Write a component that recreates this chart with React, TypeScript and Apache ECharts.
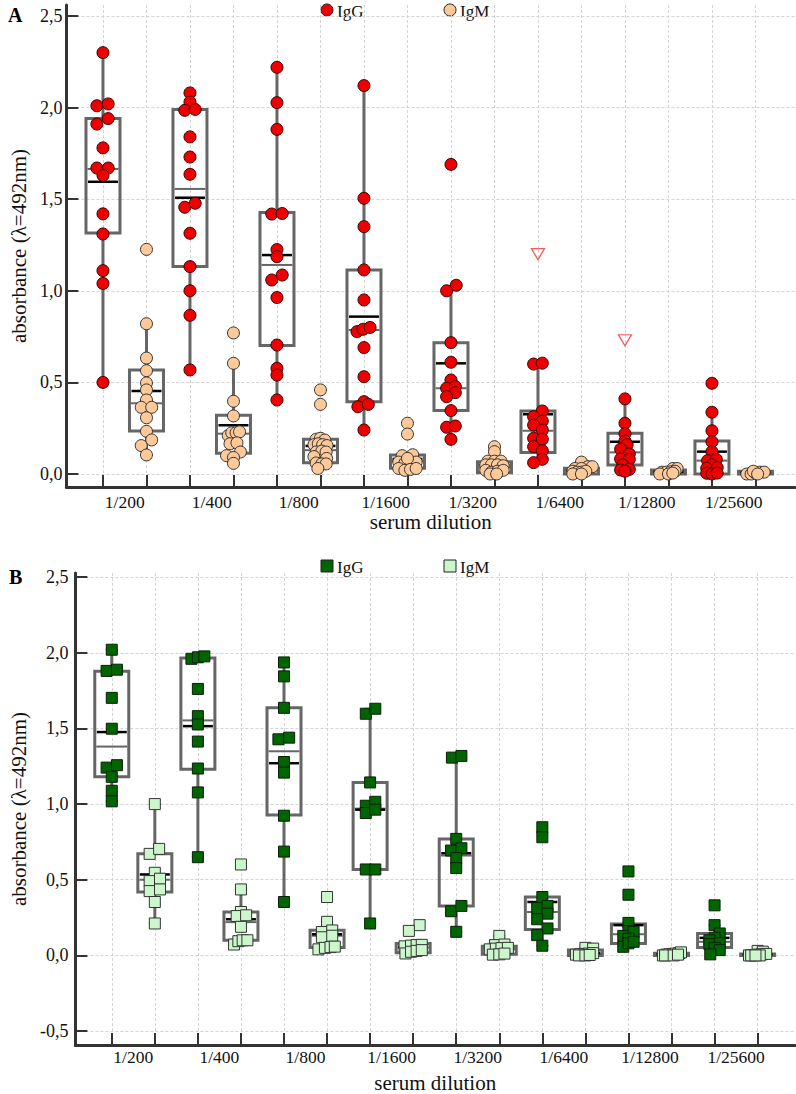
import React, { useEffect, useRef } from "react";
import * as echarts from "echarts";

const dilutions = ["1/200", "1/400", "1/800", "1/1600", "1/3200", "1/6400", "1/12800", "1/25600"];
const yTicksA = [0, 0.5, 1, 1.5, 2, 2.5];
const yTicksB = [-0.5, 0, 0.5, 1, 1.5, 2, 2.5];
const positions = [0, 1, 2, 3, 4, 5, 6, 7, 8, 9, 10, 11, 12, 13, 14, 15];
const labelPositions = [0.5, 2.5, 4.5, 6.5, 8.5, 10.5, 12.5, 14.5];

// box stats: [low whisker, Q1, median (grey), Q3, high whisker, mean (black)]
const boxA_IgG = [
  [0.5, 1.315, 1.665, 1.94, 2.3, 1.595],
  [0.568, 1.132, 1.556, 1.99, 2.078, 1.508],
  [0.404, 0.702, 1.141, 1.428, 2.214, 1.195],
  [0.24, 0.395, 0.786, 1.114, 2.118, 0.859],
  [0.189, 0.346, 0.468, 0.717, 1.026, 0.604],
  [0.062, 0.118, 0.236, 0.344, 0.6, 0.326],
  [0.015, 0.049, 0.118, 0.222, 0.413, 0.176],
  [0.0, 0.0, 0.073, 0.18, 0.337, 0.122],
];
const boxA_IgM = [
  [0.104, 0.235, 0.386, 0.567, 0.82, 0.453],
  [0.058, 0.113, 0.22, 0.32, 0.604, 0.266],
  [0.03, 0.062, 0.13, 0.189, 0.195, 0.153],
  [0.02, 0.031, 0.07, 0.104, 0.104, 0.082],
  [0.0, 0.007, 0.035, 0.067, 0.15, 0.049],
  [0.0, 0.0, 0.02, 0.031, 0.065, 0.02],
  [0.0, 0.0, 0.01, 0.022, 0.03, 0.012],
  [0.0, 0.0, 0.005, 0.015, 0.02, 0.008],
];
// points: [horizontal jitter, absorbance]
const ptsA_IgG = [
  [[0, 2.3], [-0.14, 2.01], [0.12, 2.02], [0.12, 1.94], [-0.14, 1.91], [0, 1.78], [-0.14, 1.67], [0.12, 1.67], [0, 1.63], [0, 1.42], [0, 1.31], [0, 1.11], [0, 1.04], [0, 0.5]],
  [[0, 2.08], [0, 2.03], [-0.12, 1.985], [0.12, 1.99], [0, 1.84], [0, 1.73], [0, 1.636], [-0.12, 1.456], [0.12, 1.478], [0, 1.314], [0, 1.132], [0, 1.0], [0, 0.866], [0, 0.568]],
  [[0, 2.22], [0, 2.027], [0, 1.881], [-0.12, 1.419], [0.12, 1.422], [0, 1.225], [0, 1.186], [-0.12, 1.059], [0.12, 1.086], [0, 0.963], [0, 0.704], [0, 0.577], [0, 0.54], [0, 0.404]],
  [[0, 2.12], [0, 1.505], [0, 1.35], [0, 1.114], [0, 0.95], [-0.16, 0.777], [-0.02, 0.79], [0.14, 0.8], [0, 0.69], [0, 0.531], [0, 0.395], [-0.14, 0.367], [0.1, 0.38], [0, 0.24]],
  [[0, 1.69], [0.12, 1.03], [-0.1, 1.0], [0, 0.717], [0, 0.61], [0, 0.513], [-0.1, 0.468], [0.1, 0.477], [0.1, 0.444], [-0.1, 0.422], [0, 0.346], [-0.1, 0.255], [0.1, 0.262], [0, 0.189]],
  [[-0.1, 0.6], [0.1, 0.605], [0.1, 0.344], [-0.1, 0.313], [0.1, 0.289], [-0.1, 0.267], [0.1, 0.24], [-0.1, 0.195], [0.1, 0.19], [-0.1, 0.149], [0.1, 0.127], [0.1, 0.08], [-0.1, 0.062]],
  [[0, 0.41], [0, 0.277], [0, 0.22], [0, 0.18], [0.05, 0.16], [-0.1, 0.135], [0.1, 0.11], [-0.1, 0.082], [0.1, 0.08], [-0.05, 0.05], [-0.1, 0.022], [0.1, 0.025], [0, 0.015]],
  [[0, 0.495], [0, 0.337], [0, 0.236], [0, 0.176], [0, 0.122], [-0.1, 0.073], [0.1, 0.08], [0, 0.05], [-0.12, 0.031], [0.12, 0.035], [-0.12, 0.004], [0, 0.0], [0.12, 0.005]],
];
const ptsA_IgM = [
  [[0, 1.226], [0, 0.82], [0, 0.633], [0, 0.564], [0, 0.497], [0, 0.459], [0, 0.404], [-0.12, 0.364], [0.12, 0.364], [0, 0.307], [0, 0.233], [0.12, 0.186], [-0.12, 0.155], [0, 0.104]],
  [[0, 0.77], [0, 0.604], [0, 0.397], [0, 0.317], [-0.12, 0.21], [-0.04, 0.225], [0.06, 0.225], [0.14, 0.23], [-0.08, 0.165], [0.08, 0.17], [0.16, 0.12], [-0.16, 0.1], [0, 0.09], [0, 0.058]],
  [[0, 0.459], [0, 0.38], [-0.1, 0.19], [0, 0.195], [0.1, 0.185], [-0.15, 0.16], [-0.05, 0.165], [0.05, 0.16], [0.15, 0.155], [-0.1, 0.12], [0.03, 0.125], [0.13, 0.12], [-0.15, 0.095], [0.14, 0.085], [-0.1, 0.06], [0.03, 0.055], [0.13, 0.055], [-0.06, 0.03]],
  [[0, 0.277], [0, 0.218], [-0.12, 0.1], [0.12, 0.105], [-0.2, 0.065], [-0.06, 0.06], [0.07, 0.06], [0.2, 0.065], [0, 0.085], [-0.2, 0.03], [-0.06, 0.02], [0.07, 0.025], [0.2, 0.03]],
  [[0, 0.149], [0, 0.122], [-0.15, 0.07], [0, 0.07], [0.15, 0.07], [-0.2, 0.05], [-0.07, 0.05], [0.07, 0.05], [0.2, 0.045], [-0.2, 0.02], [-0.07, 0.01], [0.07, 0.015], [0.2, 0.02], [-0.1, 0.0], [0.05, 0.0]],
  [[0, 0.065], [0.15, 0.04], [0.25, 0.04], [-0.15, 0.03], [0, 0.03], [-0.2, 0.015], [-0.1, 0.01], [0, 0.01], [0.1, 0.015], [-0.2, 0.0], [0, 0.0]],
  [[0.1, 0.03], [0.2, 0.03], [-0.15, 0.01], [-0.05, 0.01], [0.05, 0.012], [0.15, 0.015], [-0.2, 0.0], [0, 0.0], [0.1, 0.005]],
  [[-0.2, 0.0], [-0.1, 0.0], [0, 0.005], [0.1, 0.01], [0.2, 0.01], [-0.05, 0.015], [0.05, 0.0]],
];
// far outliers (open triangles): [position index, absorbance]
const farA_IgG = [[10, 1.2], [12, 0.73]];

const boxB_IgG = [
  [1.018, 1.18, 1.38, 1.877, 2.02, 1.476],
  [0.649, 1.23, 1.553, 1.965, 1.976, 1.515],
  [0.353, 0.928, 1.349, 1.636, 1.936, 1.27],
  [0.211, 0.568, 0.97, 1.143, 1.63, 0.963],
  [0.156, 0.327, 0.66, 0.77, 1.318, 0.675],
  [0.064, 0.171, 0.287, 0.386, 0.386, 0.353],
  [0.057, 0.079, 0.14, 0.208, 0.215, 0.2],
  [0.007, 0.053, 0.09, 0.145, 0.2, 0.116],
];
const boxB_IgM = [
  [0.211, 0.419, 0.5, 0.671, 1.0, 0.535],
  [0.072, 0.101, 0.22, 0.287, 0.436, 0.239],
  [0.04, 0.053, 0.13, 0.167, 0.222, 0.14],
  [0.013, 0.018, 0.05, 0.079, 0.079, 0.057],
  [0.005, 0.007, 0.04, 0.061, 0.129, 0.045],
  [0.0, 0.0, 0.01, 0.035, 0.05, 0.015],
  [0.0, 0.0, 0.007, 0.015, 0.02, 0.008],
  [0.0, 0.0, 0.005, 0.01, 0.03, 0.008],
];
const ptsB_IgG = [
  [[0, 2.02], [-0.12, 1.88], [0.12, 1.888], [0, 1.702], [0, 1.498], [-0.12, 1.241], [0.12, 1.257], [0, 1.18], [0, 1.088], [0, 1.018]],
  [[-0.15, 1.96], [0, 1.97], [0.15, 1.976], [0, 1.761], [0, 1.581], [0, 1.526], [0, 1.413], [0, 1.235], [0, 1.077], [0, 0.649]],
  [[0, 1.936], [0, 1.844], [0, 1.636], [-0.13, 1.428], [0.12, 1.439], [0, 1.278], [0, 1.208], [0, 0.923], [0, 0.686], [0, 0.353]],
  [[-0.1, 1.597], [0.12, 1.63], [0, 1.143], [-0.1, 0.989], [0.12, 1.015], [-0.1, 0.941], [0.12, 0.963], [-0.1, 0.568], [0.12, 0.568], [0, 0.211]],
  [[-0.1, 1.307], [0.12, 1.318], [0, 0.77], [-0.12, 0.693], [0.12, 0.708], [0, 0.643], [0, 0.577], [-0.12, 0.292], [0.12, 0.327], [0, 0.156]],
  [[0, 0.847], [0, 0.781], [0, 0.386], [-0.12, 0.313], [0.12, 0.327], [0.12, 0.276], [-0.12, 0.239], [0.12, 0.178], [-0.12, 0.134], [0, 0.064]],
  [[0, 0.555], [0, 0.401], [0, 0.215], [0, 0.16], [-0.12, 0.129], [0.12, 0.155], [0, 0.11], [-0.12, 0.057], [0, 0.08], [0.12, 0.09]],
  [[0, 0.331], [0, 0.2], [0.12, 0.145], [0, 0.116], [-0.12, 0.1], [-0.12, 0.075], [0.12, 0.08], [0, 0.05], [0.12, 0.035], [-0.1, 0.007]],
];
const ptsB_IgM = [
  [[0, 1.0], [-0.12, 0.671], [0.1, 0.704], [0, 0.546], [-0.12, 0.491], [0.12, 0.507], [-0.12, 0.425], [0.12, 0.436], [0, 0.353], [0, 0.211]],
  [[0, 0.601], [0, 0.436], [0, 0.287], [-0.1, 0.26], [0.12, 0.265], [0, 0.189], [-0.16, 0.072], [-0.06, 0.094], [0.04, 0.1], [0.15, 0.1]],
  [[0, 0.386], [0, 0.222], [-0.12, 0.155], [0.12, 0.165], [-0.12, 0.12], [0.12, 0.13], [-0.2, 0.04], [-0.05, 0.05], [0.08, 0.055], [0.18, 0.058]],
  [[0.15, 0.2], [-0.1, 0.162], [-0.2, 0.06], [-0.05, 0.065], [0.08, 0.068], [0.2, 0.07], [-0.18, 0.013], [-0.05, 0.024], [0.08, 0.03], [0.2, 0.035]],
  [[0, 0.129], [-0.1, 0.068], [0.12, 0.072], [-0.22, 0.04], [-0.08, 0.045], [0.05, 0.048], [0.2, 0.05], [-0.15, 0.005], [0, 0.007], [0.12, 0.012]],
  [[0, 0.05], [0.18, 0.045], [-0.22, 0.005], [-0.12, 0.008], [-0.02, 0.01], [0.08, 0.012], [0.18, 0.015], [-0.15, 0.0], [0, 0.0], [0.1, 0.003]],
  [[-0.2, 0.0], [-0.12, 0.005], [-0.05, 0.008], [0.03, 0.01], [0.1, 0.012], [0.18, 0.015], [0.22, 0.02], [-0.15, 0.0], [0.05, 0.0], [0.15, 0.005]],
  [[0, 0.03], [0.12, 0.025], [-0.2, 0.0], [-0.1, 0.002], [0, 0.005], [0.1, 0.008], [0.2, 0.01], [-0.15, 0.0], [0.05, 0.0], [-0.05, 0.0]],
];

const FONT = "'Liberation Serif', 'Times New Roman', 'DejaVu Serif', serif";
const GREY = "#666666";
const AXIS = "#333333";

function boxData(stats: number[][], offset: number) {
  return stats.map((s, k) => [2 * k + offset, ...s]);
}
function pointData(groups: number[][][], offset: number) {
  const out: number[][] = [];
  groups.forEach((g, k) => g.forEach(([dx, v]) => out.push([2 * k + offset + dx, v])));
  return out;
}

function renderBox(boxW: number) {
  return (params: any, api: any) => {
    const x = api.value(0);
    const low = api.value(1), q1 = api.value(2), med = api.value(3), q3 = api.value(4), high = api.value(5), mean = api.value(6);
    const pLow = api.coord([x, low]);
    const pQ1 = api.coord([x, q1]);
    const pMed = api.coord([x, med]);
    const pQ3 = api.coord([x, q3]);
    const pHigh = api.coord([x, high]);
    const pMean = api.coord([x, mean]);
    const cx = pLow[0];
    const hw = boxW / 2;
    const cap = 6;
    const ch: any[] = [];
    ch.push({ type: "line", shape: { x1: cx, y1: pQ3[1], x2: cx, y2: pHigh[1] }, style: { stroke: GREY, lineWidth: 3 } });
    ch.push({ type: "line", shape: { x1: cx, y1: pQ1[1], x2: cx, y2: pLow[1] }, style: { stroke: GREY, lineWidth: 3 } });
    ch.push({ type: "line", shape: { x1: cx - cap, y1: pHigh[1], x2: cx + cap, y2: pHigh[1] }, style: { stroke: GREY, lineWidth: 2 } });
    ch.push({ type: "line", shape: { x1: cx - cap, y1: pLow[1], x2: cx + cap, y2: pLow[1] }, style: { stroke: GREY, lineWidth: 2 } });
    ch.push({
      type: "rect",
      shape: { x: cx - hw, y: pQ3[1], width: boxW, height: Math.max(pQ1[1] - pQ3[1], 0.5) },
      style: { fill: "rgba(255,255,255,0)", stroke: GREY, lineWidth: 3 },
    });
    ch.push({ type: "line", shape: { x1: cx - hw + 1.5, y1: pMed[1], x2: cx + hw - 1.5, y2: pMed[1] }, style: { stroke: GREY, lineWidth: 2 } });
    ch.push({ type: "line", shape: { x1: cx - hw + 2, y1: pMean[1], x2: cx + hw - 2, y2: pMean[1] }, style: { stroke: "#000", lineWidth: 2.5 } });
    return { type: "group", children: ch };
  };
}

function xAxisFor(gridIndex: number, min: number, max: number, labelMargin: number, nameGap: number) {
  return {
    type: "value",
    gridIndex,
    min,
    max,
    name: "serum dilution",
    nameLocation: "middle",
    nameGap,
    nameTextStyle: { fontFamily: FONT, fontSize: 21, color: "#111" },
    axisLine: { show: true, onZero: false, lineStyle: { color: AXIS, width: 3 } },
    axisTick: { show: true, inside: true, length: 12, customValues: positions, lineStyle: { color: AXIS, width: 2 } },
    axisLabel: {
      show: true,
      customValues: labelPositions,
      margin: labelMargin,
      fontFamily: FONT,
      fontSize: 17.5,
      color: "#111",
      formatter: (v: number) => dilutions[Math.round((v - 0.5) / 2)] || "",
    },
    splitLine: { show: true, lineStyle: { color: "#d4d4d4", type: [3, 2], width: 1 } },
  };
}

function yAxisFor(gridIndex: number, min: number, max: number, ticks: number[], labelMargin: number, nameGap: number) {
  return {
    type: "value",
    gridIndex,
    min,
    max,
    name: "absorbance (λ=492nm)",
    nameLocation: "middle",
    nameGap,
    nameTextStyle: { fontFamily: FONT, fontSize: 21, color: "#111" },
    axisLine: { show: true, onZero: false, lineStyle: { color: AXIS, width: 3 } },
    axisTick: { show: true, inside: true, length: 12, customValues: ticks, lineStyle: { color: AXIS, width: 2 } },
    axisLabel: {
      show: true,
      customValues: ticks,
      margin: labelMargin,
      fontFamily: FONT,
      fontSize: 18,
      color: "#111",
      formatter: (v: number) => v.toFixed(1).replace(".", ","),
    },
    splitLine: { show: true, lineStyle: { color: "#d4d4d4", type: [3, 2], width: 1 } },
  };
}

function legendItems(y: number, shape: "circle" | "rect", colors: string[]) {
  const items: any[] = [];
  const xs = [327, 450];
  const names = ["IgG", "IgM"];
  xs.forEach((x, i) => {
    if (shape === "circle") {
      items.push({ type: "circle", shape: { cx: x, cy: y, r: 6 }, style: { fill: colors[i], stroke: "#222", lineWidth: 1 } });
    } else {
      items.push({ type: "rect", shape: { x: x - 6, y: y - 6, width: 12, height: 12 }, style: { fill: colors[i], stroke: "#222", lineWidth: 1 } });
    }
    items.push({
      type: "text",
      x: x + 10,
      y: y + 1,
      style: { text: names[i], fontFamily: FONT, fontSize: 17, fill: "#111", verticalAlign: "middle" },
    });
  });
  return items;
}

export default function App() {
  const ref = useRef<HTMLDivElement>(null);
  useEffect(() => {
    document.body.style.margin = "0";
    document.body.style.overflow = "hidden";
    if (!ref.current) return;
    const chart = echarts.init(ref.current, undefined, { renderer: "svg" });
    const RED = "#ee0000";
    const PEACH = "#fdc999";
    const DGREEN = "#006400";
    const LGREEN = "#ccf7cc";
    chart.setOption({
      animation: false,
      backgroundColor: "#ffffff",
      grid: [
        { left: 58, top: 5, width: 737, height: 482 },
        { left: 63, top: 573, width: 732, height: 474 },
      ],
      xAxis: [xAxisFor(0, -0.841, 15.909, 6, 24), xAxisFor(1, -0.845, 15.868, 3, 27)],
      yAxis: [yAxisFor(0, -0.071, 2.56, yTicksA, 4, 37), yAxisFor(1, -0.592, 2.527, yTicksB, 7, 42)],
      graphic: [
        { type: "text", x: 8, y: 5, style: { text: "A", fontFamily: FONT, fontSize: 20, fontWeight: "bold", fill: "#000" } },
        { type: "text", x: 9, y: 567, style: { text: "B", fontFamily: FONT, fontSize: 20, fontWeight: "bold", fill: "#000" } },
        ...legendItems(10, "circle", [RED, PEACH]),
        ...legendItems(566, "rect", [DGREEN, LGREEN]),
      ],
      series: [
        { type: "custom", name: "IgG box A", xAxisIndex: 0, yAxisIndex: 0, renderItem: renderBox(34), data: boxData(boxA_IgG, 0), z: 2, silent: true },
        { type: "custom", name: "IgM box A", xAxisIndex: 0, yAxisIndex: 0, renderItem: renderBox(34), data: boxData(boxA_IgM, 1), z: 2, silent: true },
        { type: "scatter", name: "IgG", xAxisIndex: 0, yAxisIndex: 0, data: pointData(ptsA_IgG, 0), symbol: "circle", symbolSize: 12, itemStyle: { color: RED, borderColor: "#3a0000", borderWidth: 1, opacity: 1 }, z: 4 },
        { type: "scatter", name: "IgM", xAxisIndex: 0, yAxisIndex: 0, data: pointData(ptsA_IgM, 1), symbol: "circle", symbolSize: 12, itemStyle: { color: PEACH, borderColor: "#333", borderWidth: 1, opacity: 1 }, z: 4 },
        { type: "scatter", name: "IgG far", xAxisIndex: 0, yAxisIndex: 0, data: farA_IgG, symbol: "triangle", symbolRotate: 180, symbolSize: [13, 11], itemStyle: { color: "rgba(255,255,255,0)", borderColor: "#ee3333", borderWidth: 1.3 }, z: 4 },
        { type: "custom", name: "IgG box B", xAxisIndex: 1, yAxisIndex: 1, renderItem: renderBox(34), data: boxData(boxB_IgG, 0), z: 2, silent: true },
        { type: "custom", name: "IgM box B", xAxisIndex: 1, yAxisIndex: 1, renderItem: renderBox(34), data: boxData(boxB_IgM, 1), z: 2, silent: true },
        { type: "scatter", name: "IgG B", xAxisIndex: 1, yAxisIndex: 1, data: pointData(ptsB_IgG, 0), symbol: "rect", symbolSize: 11, itemStyle: { color: DGREEN, borderColor: "#0a1f0a", borderWidth: 1, opacity: 1 }, z: 4 },
        { type: "scatter", name: "IgM B", xAxisIndex: 1, yAxisIndex: 1, data: pointData(ptsB_IgM, 1), symbol: "rect", symbolSize: 11, itemStyle: { color: LGREEN, borderColor: "#333", borderWidth: 1, opacity: 1 }, z: 4 },
      ],
    });
    return () => chart.dispose();
  }, []);
  return <div ref={ref} style={{ width: 796, height: 1094 }} />;
}
